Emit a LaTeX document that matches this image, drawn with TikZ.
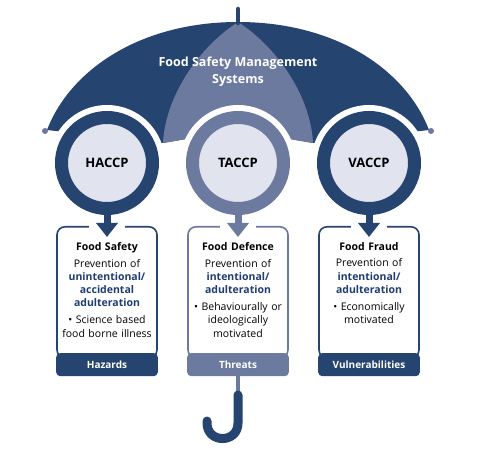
\documentclass[tikz,border=0pt]{standalone}
\usepackage{fontspec}
\setmainfont{Open Sans}
\usetikzlibrary{arrows.meta}
\definecolor{navy}{RGB}{37,68,111}
\definecolor{slate}{RGB}{107,122,158}
\definecolor{pale}{RGB}{225,228,239}
\definecolor{inkblue}{RGB}{31,61,115}
\newcommand{\hl}[1]{{\color{inkblue}\bfseries #1}}

\begin{document}
\begin{tikzpicture}[x=1pt,y=-1pt,
    halo/.style={circle, fill=white, minimum size=116pt, inner sep=0pt},
    ring/.style={circle, draw=#1, fill=pale, line width=13pt, minimum size=91pt,
                 inner sep=0pt, font=\bfseries\fontsize{13}{15}\selectfont},
    card/.style={draw=#1, line width=1.6pt, rounded corners=8pt, fill=white,
                 minimum width=100pt, minimum height=131pt, anchor=north},
    tag/.style={fill=#1, rounded corners=4pt, minimum width=101.6pt, minimum height=23pt,
                text=white, font=\bfseries\fontsize{10}{12}\selectfont, anchor=north},
    body/.style={text width=104pt, align=center, inner sep=0pt, anchor=north,
                 font=\fontsize{10.5}{13.3}\selectfont},
    pointer/.style={#1, line width=7pt, -{Triangle[width=21pt,length=14pt]}}]

  \useasboundingbox (0,0) rectangle (492,454);

  % canopy
  \fill[navy] (47,130) .. controls (70,70) and (140,22) .. (238,22)
              .. controls (336,22) and (406,70) .. (429,130)
              -- (313,143) -- (238,130) -- (163,143) -- cycle;
  \fill[slate] (238,22) .. controls (195,50) and (165,100) .. (163,143)
               -- (238,130) -- (313,143) .. controls (311,100) and (281,50) .. (238,22) -- cycle;
  \draw[navy, line width=4.5pt, line cap=round] (238,9) -- (238,23);
  \fill[slate] (45,131) circle (3pt);
  \fill[slate] (431,131) circle (3pt);
  \node[white, align=center, font=\bfseries\fontsize{12.5}{17}\selectfont] (title) at (238,72)
    {Food Safety Management\\ Systems};

  \node[halo] (haloH) at (107,163) {};
  \node[halo] (haloT) at (238,163) {};
  \node[halo] (haloV) at (369,163) {};

  \node[ring=navy] (haccp) at (107,163) {HACCP};
  \node[ring=slate] (taccp) at (238,163) {TACCP};
  \node[ring=navy] (vaccp) at (369,163) {VACCP};

  \node[card=navy] (safety) at (107,226) {};
  \node[card=slate] (defence) at (238,226) {};
  \node[card=navy] (fraud) at (369,226) {};

  \node[tag=navy] (hazards) at (107,353) {Hazards};
  \node[tag=slate] (threats) at (238,353) {Threats};
  \node[tag=navy] (vulner) at (369,353) {Vulnerabilities};

  \fill[white] (89,222) rectangle (125,230);
  \fill[white] (220,222) rectangle (256,230);
  \fill[white] (351,222) rectangle (387,230);
  \draw[pointer=navy] (haccp.south) -- ([yshift=-11pt]safety.north);
  \draw[pointer=slate] (taccp.south) -- ([yshift=-11pt]defence.north);
  \draw[pointer=navy] (vaccp.south) -- ([yshift=-11pt]fraud.north);

  \node[body] (safetytxt) at (107,242) {\textbf{Food Safety}\\[3.5pt]
    Prevention of\\ \hl{unintentional/}\\ \hl{accidental}\\ \hl{adulteration}\\[3.5pt]
    • Science based\\ food borne illness};
  \node[body] (defencetxt) at (238,242) {\textbf{Food Defence}\\[3.5pt]
    Prevention of\\ \hl{intentional/}\\ \hl{adulteration}\\[3.5pt]
    • Behaviourally or\\ ideologically\\ motivated};
  \node[body] (fraudtxt) at (369,242) {\textbf{Food Fraud}\\[3.5pt]
    Prevention of\\ \hl{intentional/}\\ \hl{adulteration}\\[3.5pt]
    • Economically\\ motivated};

  % handle
  \coordinate (grip) at (238,395);
  \draw[slate, line width=4pt] (threats.south) -- (grip);
  \draw[navy, line width=9pt, line cap=round] (grip) -- (238,423)
    .. controls (238,443.7) and (207,443.7) .. (207,423) -- (207,421);
\end{tikzpicture}
\end{document}
